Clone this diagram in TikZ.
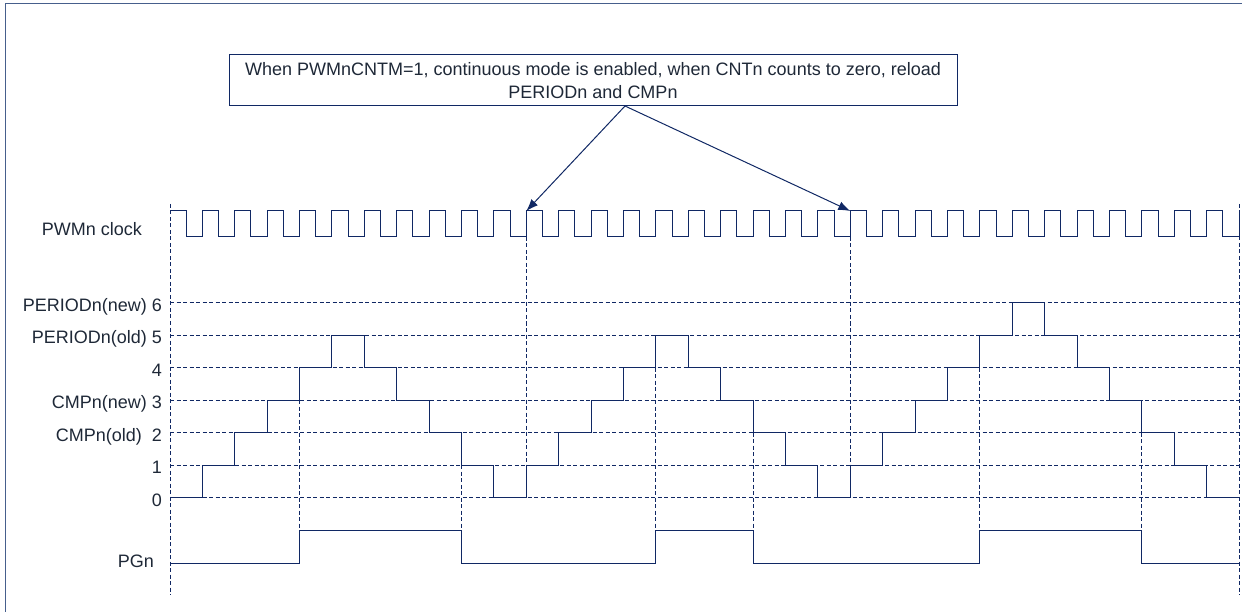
\documentclass[tikz,border=0pt]{standalone}
\usepackage{fontspec}
\setmainfont{Liberation Sans}
\usetikzlibrary{arrows.meta}
\definecolor{lc}{RGB}{16,40,100}
\definecolor{fc}{RGB}{70,95,140}
\definecolor{tc}{RGB}{30,40,55}
\begin{document}
\begin{tikzpicture}[x=1pt,y=-1pt,
  sig/.style={draw=lc,line width=1pt},
  grid/.style={draw=lc,line width=0.9pt,dash pattern=on 4pt off 2.5pt},
  lbl/.style={text=tc,inner sep=0pt,font=\fontsize{18}{22}\selectfont},
  note/.style={draw=lc,line width=1pt,text=tc,inner sep=0pt,minimum width=728pt,minimum height=51pt,align=center,font=\fontsize{18}{22.3}\selectfont},
  arr/.style={draw=lc,line width=1pt,-{Latex[length=12pt,width=9pt]}}]
\useasboundingbox (0,0) rectangle (1242,612);
\def\T{32.394}
% outer frame
\draw[draw=fc,line width=1pt] (5.5,613) -- (5.5,4) -- (1243,4);
% note box and arrows
\node[note] (note) at (593,80.5) {When PWMnCNTM=1, continuous mode is enabled, when CNTn counts to zero, reload\\PERIODn and CMPn};
\coordinate (apex) at (625,106);
\coordinate (r1) at ({170+11*\T},211);
\coordinate (r2) at ({170+21*\T},211);
\draw[arr] (apex) -- (r1);
\draw[arr] (apex) -- (r2);
% grid lines
\foreach \v in {0,...,6} \draw[grid] (170,{497.7-32.5*\v}) -- (1239,{497.7-32.5*\v});
\draw[grid] (170,204) -- (170,595);
\draw[grid] (1239,204) -- (1239,595);
\draw[grid] (r1) ++(0,26) -- ({170+11*\T},497.7);
\draw[grid] (r2) ++(0,26) -- ({170+21*\T},497.7);
\foreach \i/\v in {4/3,9/1,15/4,18/2,25/4,30/2}
  \draw[grid] ({170+\i*\T},{497.7-32.5*\v}) -- ({170+\i*\T},530);
% clock
\draw[sig] (170,211) \foreach \k in {0,...,32} { -- ({170+\k*\T+\T/2},211) -- ({170+\k*\T+\T/2},237) -- ({170+(\k+1)*\T},237) -- ({170+(\k+1)*\T},211) };
% counter
\draw[sig] (170,497.7) \foreach \v [count=\i from 0] in {0,1,2,3,4,5,4,3,2,1,0,1,2,3,4,5,4,3,2,1,0,1,2,3,4,5,6,5,4,3,2,1,0} { -- ({170+\i*\T},{497.7-32.5*\v}) -- ({170+(\i+1)*\T},{497.7-32.5*\v}) };
% PGn
\draw[sig] (170,563) -- ({170+4*\T},563) -- ({170+4*\T},530) -- ({170+9*\T},530) -- ({170+9*\T},563)
  -- ({170+15*\T},563) -- ({170+15*\T},530) -- ({170+18*\T},530) -- ({170+18*\T},563)
  -- ({170+25*\T},563) -- ({170+25*\T},530) -- ({170+30*\T},530) -- ({170+30*\T},563) -- (1239,563);
% labels
\node[lbl,anchor=base east] (lclk) at (142,236) {PWMn clock};
\node[lbl,anchor=base east] (l6) at (162,{497.7-32.5*6+8.5}) {PERIODn(new) 6};
\node[lbl,anchor=base east] (l5) at (162,{497.7-32.5*5+8.5}) {PERIODn(old) 5};
\node[lbl,anchor=base east] (l4) at (162,{497.7-32.5*4+8.5}) {4};
\node[lbl,anchor=base east] (l3) at (162,{497.7-32.5*3+8.5}) {CMPn(new) 3};
\node[lbl,anchor=base east] (l2) at (162,{497.7-32.5*2+8.5}) {CMPn(old)\ \ 2};
\node[lbl,anchor=base east] (l1) at (162,{497.7-32.5*1+8.5}) {1};
\node[lbl,anchor=base east] (l0) at (162,{497.7+8.5}) {0};
\node[lbl,anchor=base east] (lpg) at (154,567) {PGn};
\end{tikzpicture}
\end{document}
